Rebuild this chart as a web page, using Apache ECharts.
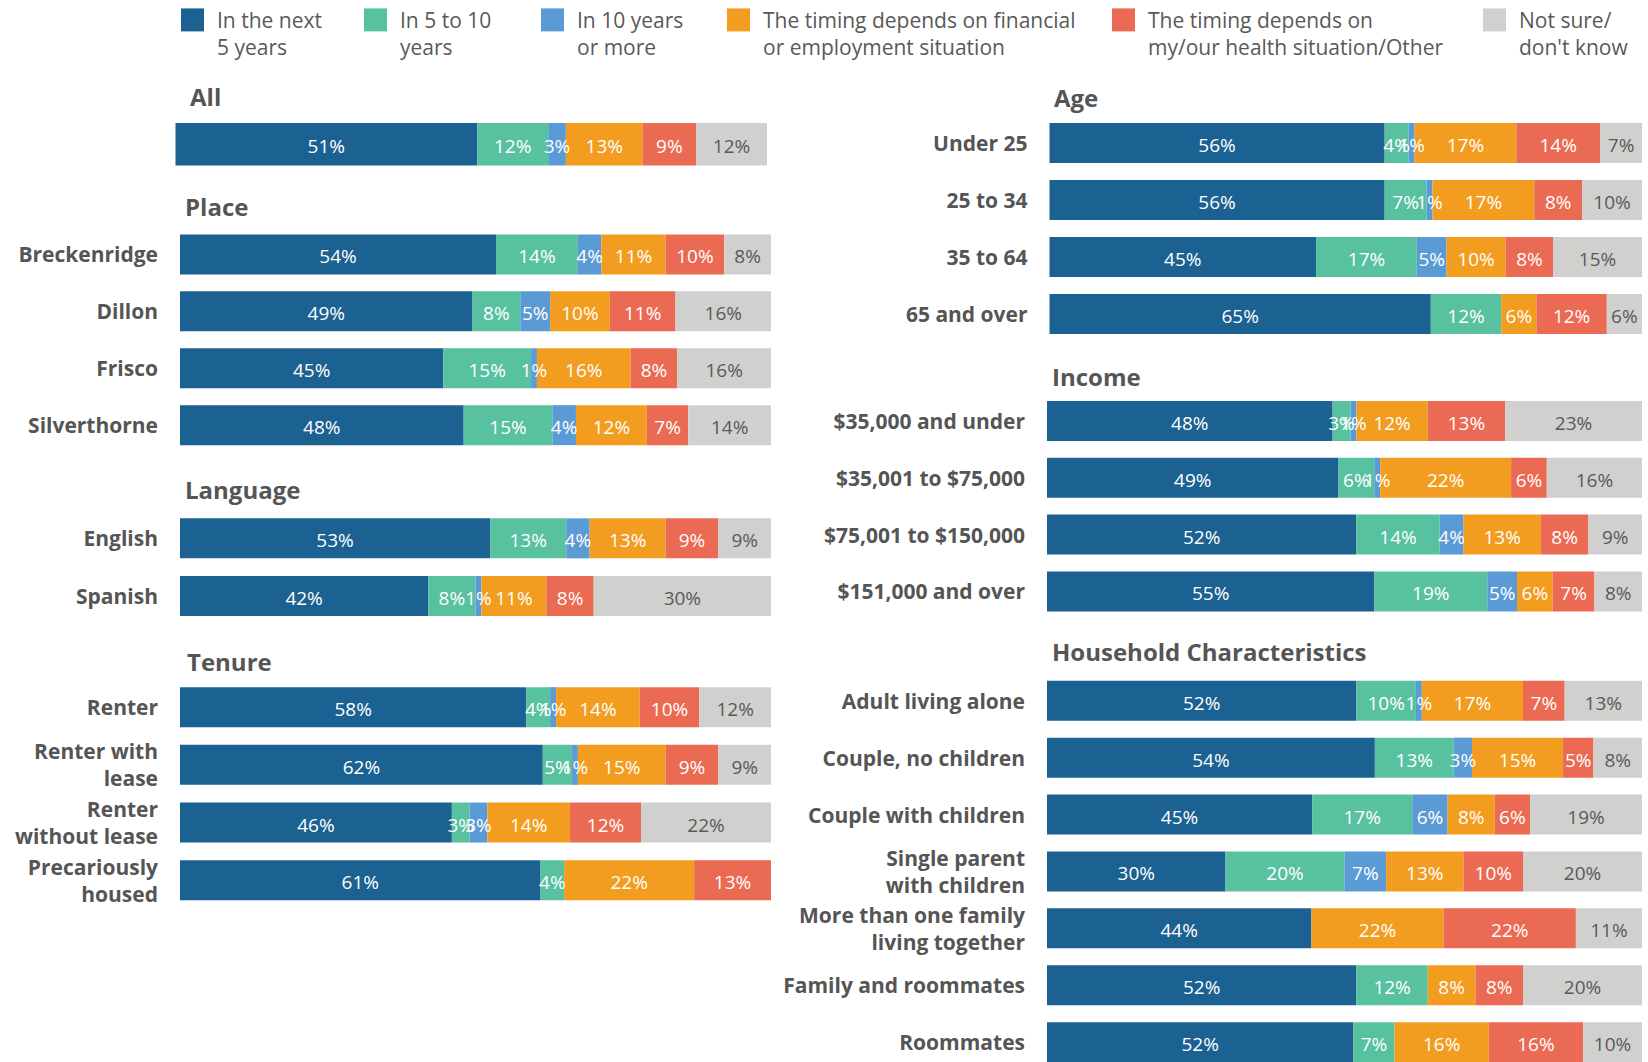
<!DOCTYPE html>
<html>
<head>
<meta charset="utf-8">
<script src="https://cdn.jsdelivr.net/npm/echarts@6.0.0/dist/echarts.min.js"></script>
<style>
html,body{margin:0;padding:0;background:#fff;}
#chart{width:1648px;height:1062px;}
</style>
</head>
<body>
<div id="chart"></div>
<script>
// ---- Data (percent shown in each bar segment) ----
const responses = ['In the next 5 years', 'In 5 to 10 years', 'In 10 years or more',
  'The timing depends on financial or employment situation',
  'The timing depends on my/our health situation/Other', 'Not sure/don\'t know'];
const legendLabels = ['In the next\n5 years', 'In 5 to 10\nyears', 'In 10 years\nor more',
  'The timing depends on financial\nor employment situation',
  'The timing depends on\nmy/our health situation/Other', 'Not sure/\ndon\'t know'];

const allCats = ['All'];
const allValues = [[51, 12, 3, 13, 9, 12]];

const placeCats = ['Breckenridge', 'Dillon', 'Frisco', 'Silverthorne'];
const placeValues = [
  [54, 14, 4, 11, 10, 8],
  [49, 8, 5, 10, 11, 16],
  [45, 15, 1, 16, 8, 16],
  [48, 15, 4, 12, 7, 14]
];

const languageCats = ['English', 'Spanish'];
const languageValues = [
  [53, 13, 4, 13, 9, 9],
  [42, 8, 1, 11, 8, 30]
];

const tenureCats = ['Renter', 'Renter with\nlease', 'Renter\nwithout lease', 'Precariously\nhoused'];
const tenureValues = [
  [58, 4, 1, 14, 10, 12],
  [62, 5, 1, 15, 9, 9],
  [46, 3, 3, 14, 12, 22],
  [61, 4, 0, 22, 13, 0]
];

const ageCats = ['Under 25', '25 to 34', '35 to 64', '65 and over'];
const ageValues = [
  [56, 4, 1, 17, 14, 7],
  [56, 7, 1, 17, 8, 10],
  [45, 17, 5, 10, 8, 15],
  [65, 12, 0, 6, 12, 6]
];

const incomeCats = ['$35,000 and under', '$35,001 to $75,000', '$75,001 to $150,000', '$151,000 and over'];
const incomeValues = [
  [48, 3, 1, 12, 13, 23],
  [49, 6, 1, 22, 6, 16],
  [52, 14, 4, 13, 8, 9],
  [55, 19, 5, 6, 7, 8]
];

const householdCats = ['Adult living alone', 'Couple, no children', 'Couple with children',
  'Single parent\nwith children', 'More than one family\nliving together', 'Family and roommates', 'Roommates'];
const householdValues = [
  [52, 10, 1, 17, 7, 13],
  [54, 13, 3, 15, 5, 8],
  [45, 17, 6, 8, 6, 19],
  [30, 20, 7, 13, 10, 20],
  [44, 0, 0, 22, 22, 11],
  [52, 12, 0, 8, 8, 20],
  [52, 7, 0, 16, 16, 10]
];

// ---- Styling / layout ----
const colors = ['#1B6191', '#58C1A0', '#5B9BD5', '#F29C20', '#EB6A53', '#D0D1CF'];
const labelColors = ['#ffffff', '#ffffff', '#ffffff', '#ffffff', '#ffffff', '#595959'];
const FONT = '"Open Sans", "Noto Sans", sans-serif';
const TEXT = '#555555';

const panels = [
  {title: 'All', cats: allCats, values: allValues, left: 175.5, width: 591.5, top: 123, height: 42.5, bar: 42.5, showLabels: false, tx: 190, ty: 96},
  {title: 'Place', cats: placeCats, values: placeValues, left: 180, width: 591, top: 226, height: 227.6, bar: 40, showLabels: true, tx: 185, ty: 206},
  {title: 'Language', cats: languageCats, values: languageValues, left: 180, width: 591, top: 509.5, height: 115.4, bar: 40, showLabels: true, tx: 185, ty: 489},
  {title: 'Tenure', cats: tenureCats, values: tenureValues, left: 180, width: 591, top: 678.3, height: 230.8, bar: 40, showLabels: true, tx: 187, ty: 661.5},
  {title: 'Age', cats: ageCats, values: ageValues, left: 1049.5, width: 592.5, top: 114.5, height: 228, bar: 40, showLabels: true, tx: 1054, ty: 97},
  {title: 'Income', cats: incomeCats, values: incomeValues, left: 1047, width: 595, top: 392.6, height: 227.2, bar: 40, showLabels: true, tx: 1052, ty: 376},
  {title: 'Household Characteristics', cats: householdCats, values: householdValues, left: 1047, width: 595, top: 672.3, height: 398.3, bar: 40, showLabels: true, tx: 1052, ty: 651}
];

const legendLeft = [181, 364, 541, 727, 1112, 1483];

const grid = [], xAxis = [], yAxis = [], series = [], title = [], legend = [];

panels.forEach((p, gi) => {
  grid.push({left: p.left, top: p.top, width: p.width, height: p.height, containLabel: false, outerBoundsMode: 'none'});
  xAxis.push({type: 'value', gridIndex: gi, min: 0, max: 100, show: false});
  yAxis.push({
    type: 'category', gridIndex: gi, data: p.cats, inverse: true,
    axisLine: {show: false}, axisTick: {show: false},
    axisLabel: {show: p.showLabels, margin: 22, color: TEXT, fontFamily: FONT, fontWeight: 'bold', fontSize: 21, lineHeight: 27, align: 'right'}
  });
  title.push({
    text: p.title, left: p.tx, top: p.ty - 15, padding: 0,
    textStyle: {fontFamily: FONT, fontWeight: 'bold', fontSize: 24, lineHeight: 30, color: TEXT}
  });
  const sums = p.values.map(r => r.reduce((a, b) => a + b, 0));
  responses.forEach((name, si) => {
    series.push({
      type: 'bar', name: name, xAxisIndex: gi, yAxisIndex: gi, stack: 'panel' + gi,
      barWidth: p.bar, itemStyle: {color: colors[si]},
      label: {
        show: true, position: 'inside', offset: [0, 2], color: labelColors[si], fontFamily: FONT, fontSize: 19,
        formatter: (q) => q.data.shown ? q.data.shown + '%' : ''
      },
      data: p.values.map((row, ri) => ({value: row[si] / sums[ri] * 100, shown: row[si]}))
    });
  });
});

responses.forEach((name, i) => {
  legend.push({
    data: [name], left: legendLeft[i], top: -20.6, padding: 0,
    icon: 'rect', itemWidth: 23, itemHeight: 23, selectedMode: false,
    formatter: () => '\n' + legendLabels[i],
    textStyle: {fontFamily: FONT, fontSize: 21, lineHeight: 27, color: '#595959', padding: [0, 0, 0, 8]}
  });
});

const chart = echarts.init(document.getElementById('chart'), null, {renderer: 'svg'});
chart.setOption({
  animation: false,
  color: colors,
  title, legend, grid, xAxis, yAxis, series
});
</script>
</body>
</html>
